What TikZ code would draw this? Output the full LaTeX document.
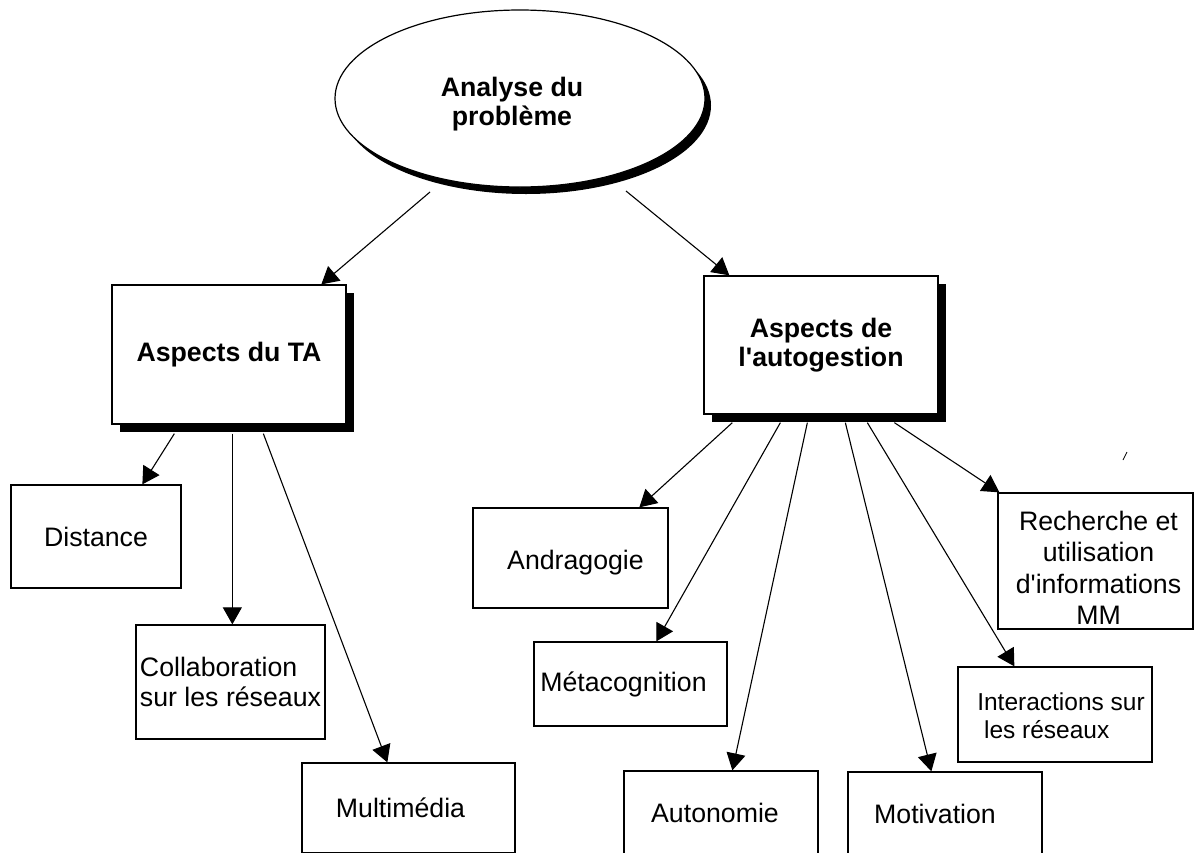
\documentclass[tikz,border=0pt]{standalone}
\usepackage{fontspec}
\setmainfont{Liberation Sans}[Ligatures=TeXOff]
\usetikzlibrary{arrows.meta,shapes.geometric,shadows,calc}

\begin{document}
\begin{tikzpicture}[x=1pt,y=-1pt,
  every node/.style={inner sep=0pt, font=\fontsize{26.7}{30}\selectfont},
  every label/.style={inner sep=0pt, align=center, font=\fontsize{26.7}{31}\selectfont},
  box/.style={draw=black, line width=1.3pt, fill=white, rectangle, align=center},
  mainbox/.style={box, general shadow={fill=black, shadow xshift=8pt, shadow yshift=-8pt},
    font=\fontsize{26.7}{29}\selectfont\bfseries},
  topic/.style={ellipse, draw=black, line width=1.2pt, fill=white,
    general shadow={fill=black, shadow xshift=6pt, shadow yshift=-7pt}},
  bold label/.style={font=\fontsize{26.7}{29}\selectfont\bfseries},
  link/.style={line width=1.1pt, -{Triangle[length=17pt,width=19pt]}},
]
\useasboundingbox (0,0) rectangle (1199,852);
\fill[white] (0,0) rectangle (1199,852);
\clip (0,0) rectangle (1199,852);

% root of the concept map
\node[topic, minimum width=370, minimum height=177,
      label={[bold label, shift={(-8,6)}]center:Analyse du\\problème}] (prob) at (520,98.5) {};

% the two main branches
\node[mainbox, minimum width=234, minimum height=139] (ta) at (229,354.5) {Aspects du TA};
\node[mainbox, minimum width=234, minimum height=138] (auto) at (821,345) {Aspects de\\l'autogestion};

% leaves of the left branch
\node[box, minimum width=170, minimum height=103] (dist) at (96,536.5) {Distance};
\node[box, minimum width=189, minimum height=114, align=left] (collab) at (230.5,682) {Collaboration\\sur les réseaux};
\node[box, minimum width=213, minimum height=90,
      label={[shift={(-8,0)}]center:Multimédia}] (multi) at (408.5,808) {};

% leaves of the right branch
\node[box, minimum width=195, minimum height=100,
      label={[shift={(5,5)}]center:Andragogie}] (andra) at (570.5,558) {};
\node[box, minimum width=193, minimum height=84,
      label={[shift={(-7,0)}]center:Métacognition}] (meta) at (630.5,684) {};
\node[box, minimum width=194, minimum height=84,
      label={[shift={(-6,0)}]center:Autonomie}] (auton) at (721,813) {};
\node[box, minimum width=194, minimum height=84,
      label={[shift={(-10,0)}]center:Motivation}] (motiv) at (945,814) {};
\node[box, minimum width=194, minimum height=95,
      label={[align=left, font=\fontsize{24.5}{28}\selectfont, shift={(6,1)}]center:Interactions sur\\\ les réseaux}]
      (inter) at (1055,714.5) {};
\node[box, minimum width=195, minimum height=136,
      label={[font=\fontsize{26.7}{31.5}\selectfont, shift={(3,7)}]center:Recherche et\\utilisation\\d'informations\\MM}]
      (rech) at (1095.5,561) {};

% connectors
\draw[link] ($(prob.center)+(-90,93.5)$) -- ($(ta.north west)+(210,0)$);
\draw[link] ($(prob.center)+(106,92.5)$) -- ($(auto.north west)+(26,0)$);

\draw[link] ($(ta.south west)+(63,9)$)  -- ($(dist.north west)+(132,0)$);
\draw[link] ($(ta.south west)+(121,9)$) -- ($(collab.north west)+(97,0)$);
\draw[link] ($(ta.south west)+(152,9)$) -- ($(multi.north west)+(86,0)$);

\draw[link] ($(auto.south west)+(29,8)$)  -- ($(andra.north west)+(167,0)$);
\draw[link] ($(auto.south west)+(77,8)$)  -- ($(meta.north west)+(123,0)$);
\draw[link] ($(auto.south west)+(104,8)$) -- ($(auton.north west)+(109,0)$);
\draw[link] ($(auto.south west)+(142,8)$) -- ($(motiv.north west)+(84,0)$);
\draw[link] ($(auto.south west)+(164,8)$) -- ($(inter.north west)+(57,0)$);
\draw[link] ($(auto.south west)+(191,8)$) -- ($(rech.north west)+(2,0)$);

% small pen stroke
\draw[line width=0.8pt] (1123,460) -- (1127,452);
\end{tikzpicture}
\end{document}
